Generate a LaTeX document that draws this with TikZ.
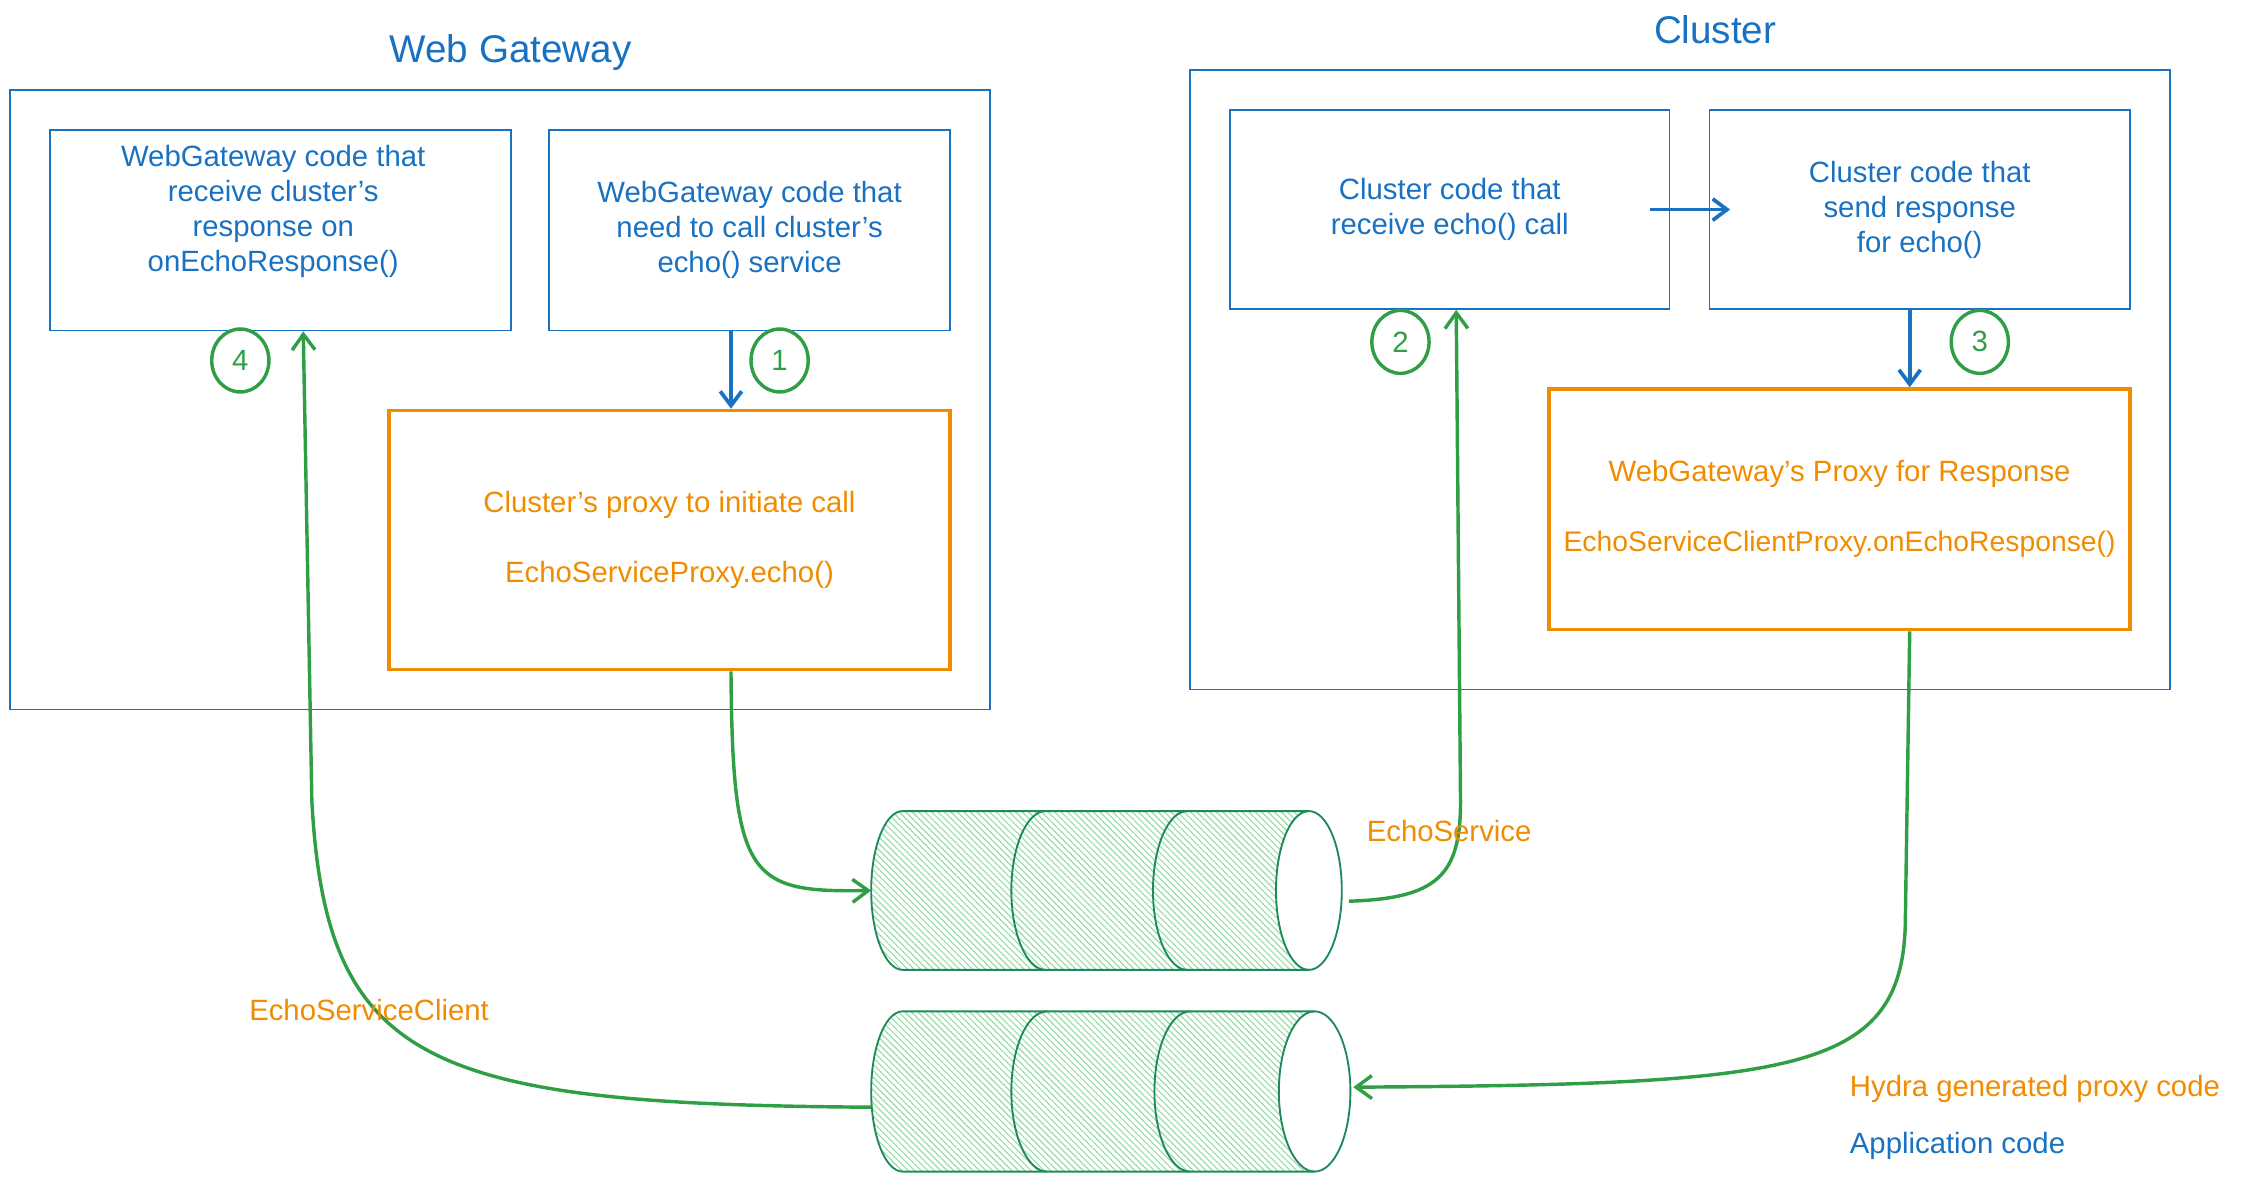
\documentclass[tikz,border=0pt]{standalone}
\usepackage{fontspec}
\setmainfont{Liberation Sans}
\usetikzlibrary{arrows.meta,patterns.meta,shapes.geometric}
\definecolor{xblue}{HTML}{1971C2}
\definecolor{xorange}{HTML}{F08C00}
\definecolor{xgreen}{HTML}{2F9E44}
\definecolor{xteal}{HTML}{1E8A5C}
\definecolor{xhatch}{HTML}{96DDA3}
\begin{document}
\begin{tikzpicture}[x=1pt,y=-1pt,
  body/.style={font=\fontsize{20.5}{24.5}\selectfont, align=center, inner sep=0pt},
  titletext/.style={font=\fontsize{27}{30}\selectfont, text=xblue, inner sep=0pt},
  frame/.style={draw=xblue, line width=1.2pt, inner sep=0pt},
  appbox/.style={frame, text=xblue, body},
  proxybox/.style={draw=xorange, line width=2.6pt, text=xorange, body},
  badge/.style={draw=xgreen, line width=2.4pt, ellipse, minimum width=40pt, minimum height=44pt, inner sep=0pt, text=xgreen, body},
  barrow/.style={draw=xblue, line width=2.6pt, -{Straight Barb[length=10pt,width=15pt]}},
  garrow/.style={draw=xgreen, line width=2.4pt, -{Straight Barb[length=11pt,width=16pt]}},
  qline/.style={draw=xteal, line width=1.3pt},
  qfill/.style={pattern={Lines[angle=-45,distance=3.2pt,line width=0.8pt]}, pattern color=xhatch},
  olabel/.style={body, text=xorange},
]
\useasboundingbox (0,0) rectangle (1568,826);

% titles and frames
\node[titletext] (wgt) at (357,37) {Web Gateway};
\node[titletext] (clt) at (1199,21) {Cluster};
\node[frame, minimum width=685pt, minimum height=433pt] (wg) at (349.5,279.5) {};
\node[frame, minimum width=685pt, minimum height=433pt] (cl) at (1174.5,265.5) {};

% boxes
\node[frame, minimum width=322pt, minimum height=140pt] (A) at (196,161) {};
\node[body, text=xblue] (At) at (191,147.5) {WebGateway code that\\receive cluster's\\response on\\onEchoResponse()};
\node[appbox, minimum width=280pt, minimum height=140pt] (B) at (524,161) {WebGateway code that\\need to call cluster's\\echo() service};
\node[proxybox, minimum width=392pt, minimum height=181pt] (C) at (468,377.5) {Cluster's proxy to initiate call\\[24.5pt]EchoServiceProxy.echo()};
\node[appbox, minimum width=307pt, minimum height=139pt] (D) at (1013.5,146.5) {Cluster code that\\receive echo() call};
\node[appbox, minimum width=294pt, minimum height=139pt] (E) at (1342,146.5) {Cluster code that\\send response\\for echo()};
\node[proxybox, minimum width=406pt, minimum height=168pt] (F) at (1286,356) {WebGateway's Proxy for Response\\[24.5pt]{\fontsize{19.8}{24.5}\selectfont EchoServiceClientProxy.onEchoResponse()}};

% badges
\node[badge] (n4) at (168,252) {4};
\node[badge] (n1) at (545,252) {1};
\node[badge] (n2) at (979,239) {2};
\node[badge] (n3) at (1384,239) {3};

% queue 1
\path[qfill] (915,567) -- (631,567) arc[start angle=270,end angle=90,x radius=22,y radius=55.5] -- (915,678) arc[start angle=90,end angle=-90,x radius=23,y radius=55.5] -- cycle;
\draw[qline, fill=white] (915,622.5) ellipse[x radius=23, y radius=55.5];
\draw[qline] (915,567) -- (631,567) arc[start angle=270,end angle=90,x radius=22,y radius=55.5] -- (915,678);
\draw[qline] (731,567) arc[start angle=270,end angle=90,x radius=24,y radius=55.5];
\draw[qline] (830,567) arc[start angle=270,end angle=90,x radius=24,y radius=55.5];

% queue 2
\path[qfill] (919,707) -- (631,707) arc[start angle=270,end angle=90,x radius=22,y radius=56] -- (919,819) arc[start angle=90,end angle=-90,x radius=25,y radius=56] -- cycle;
\draw[qline, fill=white] (919,763) ellipse[x radius=25, y radius=56];
\draw[qline] (919,707) -- (631,707) arc[start angle=270,end angle=90,x radius=22,y radius=56] -- (919,819);
\draw[qline] (732,707) arc[start angle=270,end angle=90,x radius=25,y radius=56];
\draw[qline] (832,707) arc[start angle=270,end angle=90,x radius=25,y radius=56];

\coordinate (q1w) at (609,622.5);
\coordinate (q1e) at (943,630);
\coordinate (q2w) at (609,774);
\coordinate (q2e) at (946,760);
\coordinate (x1) at (511,0);
\coordinate (x2) at (1018,0);
\coordinate (x3) at (1335,0);
\coordinate (x4) at (212,0);

% blue arrows
\draw[barrow] (B.south -| x1) -- (C.north -| x1);
\draw[barrow] ([xshift=-14pt]D.east) -- ([xshift=15pt]E.west);
\draw[barrow] (E.south -| x3) -- (F.north -| x3);

% green connectors
\draw[garrow] (C.south -| x1) .. controls (512,615) and (524,624) .. (q1w);
\draw[garrow] (q1e) .. controls (1005,628) and (1021,612) .. (1021,560) -- (D.south -| x2);
\draw[garrow] (F.south -| x3) -- (1332,640) .. controls (1332,750) and (1260,758) .. (q2e);
\draw[garrow] (q2w) .. controls (300,772) and (228,745) .. (218,560) -- (A.south -| x4);

% labels
\node[olabel] (es) at (1013,581) {EchoService};
\node[olabel] (esc) at (258,706) {EchoServiceClient};
\node[olabel, anchor=west] (lg1) at (1293,761) {Hydra generated proxy code};
\node[body, text=xblue, anchor=west] (lg2) at (1293,801) {Application code};
\end{tikzpicture}
\end{document}
